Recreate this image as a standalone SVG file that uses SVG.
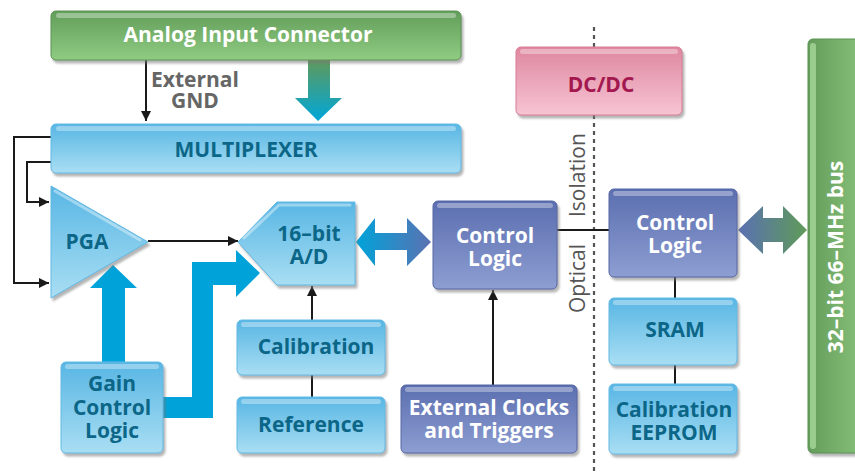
<svg xmlns="http://www.w3.org/2000/svg" width="855" height="474" viewBox="0 0 855 474">
<defs>
<linearGradient id="gGreen" x1="0" y1="0" x2="0" y2="1"><stop offset="0" stop-color="#629e5a"/><stop offset="1" stop-color="#8fcb81"/></linearGradient>
<linearGradient id="gBlue" x1="0" y1="0" x2="0" y2="1"><stop offset="0" stop-color="#58b6e4"/><stop offset="1" stop-color="#a9def3"/></linearGradient>
<linearGradient id="gPurple" x1="0" y1="0" x2="0" y2="1"><stop offset="0" stop-color="#5b6eaf"/><stop offset="1" stop-color="#8d9ed2"/></linearGradient>
<linearGradient id="gPink" x1="0" y1="0" x2="0" y2="1"><stop offset="0" stop-color="#de879f"/><stop offset="1" stop-color="#f7c4d4"/></linearGradient>
<linearGradient id="gBus" x1="0" y1="0" x2="1" y2="0"><stop offset="0" stop-color="#649c5b"/><stop offset="1" stop-color="#8fcb81"/></linearGradient>
<linearGradient id="gDown" x1="0" y1="0" x2="0" y2="1"><stop offset="0" stop-color="#5f9a5c"/><stop offset="1" stop-color="#00a7d9"/></linearGradient>
<linearGradient id="gBP" x1="0" y1="0" x2="1" y2="0"><stop offset="0" stop-color="#00a3d9"/><stop offset="1" stop-color="#5b71b2"/></linearGradient>
<linearGradient id="gPG" x1="0" y1="0" x2="1" y2="0"><stop offset="0" stop-color="#5a70b3"/><stop offset="1" stop-color="#5f9b58"/></linearGradient>
<filter id="sh" x="-10%" y="-10%" width="130%" height="130%"><feDropShadow dx="2" dy="3" stdDeviation="1.2" flood-color="#777" flood-opacity="0.55"/></filter>
<marker id="ah" viewBox="0 0 10 10" refX="10" refY="5" markerWidth="10" markerHeight="10" markerUnits="userSpaceOnUse" orient="auto"><path d="M0,0 L10,5 L0,10 Z" fill="#1a1a1a"/></marker>
</defs>
<style>
.t{font-family:"Open Sans","Liberation Sans",sans-serif;font-weight:bold;font-size:21px;text-anchor:middle}
.w{fill:#ffffff}
.d{fill:#0b6687}
.green{fill:url(#gGreen);stroke:#5a9352;stroke-width:1}
.blue{fill:url(#gBlue);stroke:#62b9e4;stroke-width:1}
.purple{fill:url(#gPurple);stroke:#5567a6;stroke-width:1}
.pink{fill:url(#gPink);stroke:#d97c96;stroke-width:1}
.hl{fill:#ffffff;fill-opacity:0.35}
.ln{fill:none;stroke:#1a1a1a;stroke-width:2}
</style>

<line x1="594" y1="27" x2="594" y2="474" stroke="#555" stroke-width="2.2" stroke-dasharray="4,4"/>

<g id="connectors">
  <line class="ln" x1="146" y1="60" x2="146" y2="121" marker-end="url(#ah)"/>
  <polygon points="308,60 330,60 330,98 342,98 318,121 295,98 308,98" fill="url(#gDown)"/>
  <polyline class="ln" points="51,137 14,137 14,283 49,283" marker-end="url(#ah)"/>
  <polyline class="ln" points="51,162 27,162 27,202 49,202" marker-end="url(#ah)"/>
  <line class="ln" x1="148" y1="241" x2="238" y2="241" marker-end="url(#ah)"/>
  <polygon points="102,362 102,288 90,288 113,265 137,288 125,288 125,362" fill="#00a3d9"/>
  <polygon points="163,397 192,397 192,262 236,262 236,250 260,273 236,297 236,285 213,285 213,418 163,418" fill="#00a3d9"/>
  <line class="ln" x1="312" y1="320" x2="312" y2="286" marker-end="url(#ah)"/>
  <line class="ln" x1="312" y1="375" x2="312" y2="397"/>
  <polygon points="356,242 375,218 375,233 407,233 407,218 431,242 407,266 407,250 375,250 375,266" fill="url(#gBP)"/>
  <line class="ln" x1="493" y1="385" x2="493" y2="290" marker-end="url(#ah)"/>
  <line class="ln" x1="557" y1="230" x2="609" y2="230"/>
  <line class="ln" x1="675" y1="277" x2="675" y2="298"/>
  <line class="ln" x1="675" y1="365" x2="675" y2="384"/>
  <polygon points="738,230 763,206 763,218 783,218 783,206 807,230 783,254 783,242 763,242 763,254" fill="url(#gPG)"/>
</g>

<g id="analog-input">
  <rect class="green" x="51" y="11" width="410" height="49" rx="5" filter="url(#sh)"/>
  <rect class="hl" x="56" y="13" width="400" height="5" rx="2.5"/>
  <text class="t w" x="248" y="42">Analog Input Connector</text>
</g>

<g id="external-gnd">
  <text class="t" x="195" y="87" style="fill:#666">External</text>
  <text class="t" x="195" y="108" style="fill:#666">GND</text>
</g>

<g id="multiplexer">
  <rect class="blue" x="51" y="124" width="410" height="49" rx="5" filter="url(#sh)"/>
  <rect class="hl" x="56" y="126" width="400" height="5" rx="2.5"/>
  <text class="t d" x="246" y="157">MULTIPLEXER</text>
</g>

<g id="pga">
  <polygon class="blue" points="51,186 148,242 51,298" stroke-linejoin="round" filter="url(#sh)"/>
  <line x1="55" y1="191" x2="140" y2="240" stroke="#fff" stroke-opacity="0.4" stroke-width="3" stroke-linecap="round"/>
  <text class="t d" x="87" y="249">PGA</text>
</g>

<g id="adc">
  <polygon class="blue" points="238,242 277,202 355,202 355,285 277,285" stroke-linejoin="round" filter="url(#sh)"/>
  <polyline points="244,238 279,205 350,205" fill="none" stroke="#fff" stroke-opacity="0.4" stroke-width="3" stroke-linecap="round"/>
  <text class="t d" x="309" y="241">16–bit</text>
  <text class="t d" x="309" y="264">A/D</text>
</g>

<g id="gain-control">
  <rect class="blue" x="61" y="362" width="102" height="91" rx="5" filter="url(#sh)"/>
  <rect class="hl" x="65" y="364" width="94" height="5" rx="2.5"/>
  <text class="t d" x="112" y="391">Gain</text>
  <text class="t d" x="112" y="415">Control</text>
  <text class="t d" x="112" y="438">Logic</text>
</g>

<g id="calibration">
  <rect class="blue" x="237" y="320" width="148" height="55" rx="5" filter="url(#sh)"/>
  <rect class="hl" x="241" y="322" width="140" height="5" rx="2.5"/>
  <text class="t d" x="316" y="354">Calibration</text>
</g>

<g id="reference">
  <rect class="blue" x="237" y="397" width="148" height="56" rx="5" filter="url(#sh)"/>
  <rect class="hl" x="241" y="399" width="140" height="5" rx="2.5"/>
  <text class="t d" x="311" y="432">Reference</text>
</g>

<g id="control-logic-1">
  <rect class="purple" x="433" y="201" width="124" height="88" rx="5" filter="url(#sh)"/>
  <rect class="hl" x="437" y="203" width="116" height="5" rx="2.5"/>
  <text class="t w" x="495" y="243">Control</text>
  <text class="t w" x="495" y="266">Logic</text>
</g>

<g id="external-clocks">
  <rect class="purple" x="401" y="385" width="176" height="68" rx="5" filter="url(#sh)"/>
  <rect class="hl" x="405" y="387" width="168" height="5" rx="2.5"/>
  <text class="t w" x="489" y="415">External Clocks</text>
  <text class="t w" x="489" y="438">and Triggers</text>
</g>

<g id="dcdc">
  <rect class="pink" x="516" y="47" width="166" height="68" rx="5" filter="url(#sh)"/>
  <rect class="hl" x="520" y="49" width="158" height="5" rx="2.5"/>
  <text class="t" x="601" y="92" style="fill:#a3184e">DC/DC</text>
</g>

<g id="optical-isolation">
  <text transform="translate(585,313) rotate(-90)" style="font-family:'Open Sans','Liberation Sans',sans-serif;font-size:21px;fill:#555">Optical</text>
  <text transform="translate(585,217) rotate(-90)" style="font-family:'Open Sans','Liberation Sans',sans-serif;font-size:21px;fill:#555">Isolation</text>
</g>

<g id="control-logic-2">
  <rect class="purple" x="609" y="189" width="128" height="88" rx="5" filter="url(#sh)"/>
  <rect class="hl" x="613" y="191" width="120" height="5" rx="2.5"/>
  <text class="t w" x="675" y="230">Control</text>
  <text class="t w" x="675" y="253">Logic</text>
</g>

<g id="sram">
  <rect class="blue" x="609" y="298" width="128" height="67" rx="5" filter="url(#sh)"/>
  <rect class="hl" x="613" y="300" width="120" height="5" rx="2.5"/>
  <text class="t d" x="675" y="337">SRAM</text>
</g>

<g id="calibration-eeprom">
  <rect class="blue" x="609" y="384" width="128" height="70" rx="5" filter="url(#sh)"/>
  <rect class="hl" x="613" y="386" width="120" height="5" rx="2.5"/>
  <text class="t d" x="674" y="417">Calibration</text>
  <text class="t d" x="674" y="440">EEPROM</text>
</g>

<g id="bus">
  <rect x="808" y="39" width="70" height="414" rx="5" fill="url(#gBus)" stroke="#5a9352" stroke-width="1" filter="url(#sh)"/>
  <rect x="810" y="43" width="6" height="406" rx="3" fill="#a6d898" fill-opacity="0.8"/>
  <text class="t w" transform="translate(843,257) rotate(-90)">32–bit 66–MHz bus</text>
</g>
</svg>
